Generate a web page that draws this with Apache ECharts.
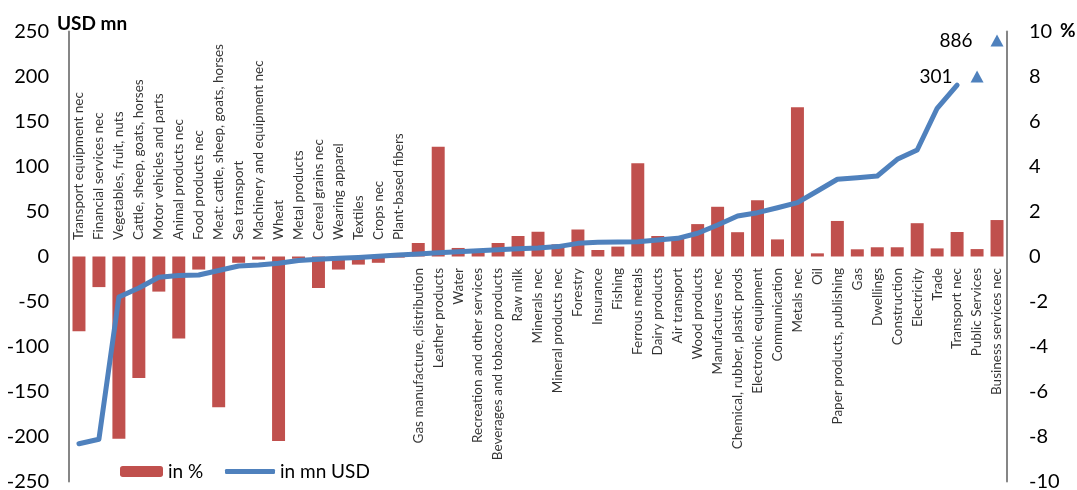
<!DOCTYPE html>
<html>
<head>
<meta charset="utf-8">
<script src="https://cdn.jsdelivr.net/npm/echarts@6/dist/echarts.min.js"></script>
<style>
  html, body { margin: 0; padding: 0; background: #fff; }
  #chart { width: 1077px; height: 490px; }
</style>
</head>
<body>
<div id="chart"></div>
<script>
// Sectors, ordered by the change in output value (mn USD)
const categories = [
  'Transport equipment nec', 'Financial services nec', 'Vegetables, fruit, nuts',
  'Cattle, sheep, goats, horses', 'Motor vehicles and parts', 'Animal products nec',
  'Food products nec', 'Meat: cattle, sheep, goats, horses', 'Sea transport',
  'Machinery and equipment nec', 'Wheat', 'Metal products', 'Cereal grains nec',
  'Wearing apparel', 'Textiles', 'Crops nec', 'Plant-based fibers',
  'Gas manufacture, distribution', 'Leather products', 'Water',
  'Recreation and other services', 'Beverages and tobacco products', 'Raw milk',
  'Minerals nec', 'Mineral products nec', 'Forestry', 'Insurance', 'Fishing',
  'Ferrous metals', 'Dairy products', 'Air transport', 'Wood products',
  'Manufactures nec', 'Chemical, rubber, plastic prods', 'Electronic equipment',
  'Communication', 'Metals nec', 'Oil', 'Paper products, publishing', 'Gas',
  'Dwellings', 'Construction', 'Electricity', 'Trade', 'Transport nec',
  'Public Services', 'Business services nec'
];

// Change in %
const changePct = [
  -3.32, -1.36, -8.1, -5.4, -1.56, -3.64, -0.58, -6.7, -0.28, -0.14,
  -8.2, -0.1, -1.4, -0.58, -0.36, -0.28, -0.05,
  0.6, 4.88, 0.38, 0.2, 0.6, 0.91, 1.1, 0.54, 1.2, 0.29, 0.44,
  4.14, 0.91, 0.85, 1.44, 2.21, 1.08, 2.5, 0.76, 6.63, 0.14,
  1.58, 0.32, 0.41, 0.41, 1.48, 0.36, 1.09, 0.33, 1.62
];

// Change in mn USD
const changeUsdMn = [
  -208, -203, -45, -35, -23, -21, -20.5, -15.5, -10.5, -9.5,
  -7.5, -4.5, -3, -2, -1, 0.2, 1.7,
  2.8, 4.2, 5.3, 6.4, 7.5, 8.5, 9.5, 11, 14.6, 15.7, 16.1,
  16.5, 18.3, 20.2, 25.8, 35, 45, 48.7, 54.2, 59.8, 72.8,
  85.8, 87.6, 89.4, 108, 118.3, 164.7, 190.5, 301, 886
];

// Axis ranges
const usdAxis = { min: -250, max: 250, step: 50 };
const pctAxis = { min: -10, max: 10, step: 2 };

const BAR_RED = '#C0504D';
const LINE_BLUE = '#4F81BD';
const AXIS_GREY = '#868686';
const FONT = 'Lato, "Open Sans", sans-serif';

// Values beyond the left axis are shown as arrows near the top with their value
const offScaleLevels = [200, 240];
const lineData = changeUsdMn.map(v => (v > usdAxis.max ? null : v));
const offScale = [];
changeUsdMn.forEach((v, i) => {
  if (v > usdAxis.max) {
    offScale.push({ value: [categories[i], offScaleLevels[offScale.length]], actual: v });
  }
});

// Sector names sit on the zero line: above it for falling sectors, below it otherwise
const sectorLabels = categories.map((name, i) => {
  const above = changePct[i] < 0;
  return {
    name: name,
    value: [name, 0],
    label: {
      position: above ? 'top' : 'bottom',
      distance: above ? 16 : 11,
      align: above ? 'left' : 'right'
    }
  };
});

const chart = echarts.init(document.getElementById('chart'), null, { renderer: 'canvas' });

chart.setOption({
  animation: false,
  backgroundColor: '#fff',
  grid: { left: 69, right: 70, top: 31.5, bottom: 8.5, containLabel: false, outerBoundsMode: 'none' },
  xAxis: {
    type: 'category',
    data: categories,
    boundaryGap: true,
    axisLine: { show: false },
    axisTick: { show: false },
    axisLabel: { show: false },
    splitLine: { show: false }
  },
  yAxis: [
    {
      type: 'value', position: 'left',
      min: usdAxis.min, max: usdAxis.max, interval: usdAxis.step,
      axisLine: { show: true, lineStyle: { color: AXIS_GREY, width: 2 } },
      axisTick: { show: false },
      splitLine: { show: false },
      axisLabel: { fontSize: 20, color: '#000', margin: 20, fontFamily: FONT }
    },
    {
      type: 'value', position: 'right',
      min: pctAxis.min, max: pctAxis.max, interval: pctAxis.step,
      axisLine: { show: true, lineStyle: { color: AXIS_GREY, width: 2 } },
      axisTick: { show: false },
      splitLine: { show: false },
      axisLabel: { fontSize: 20, color: '#000', margin: 22, fontFamily: FONT }
    }
  ],
  legend: [
    {
      data: ['in %'], left: 120, top: 462, padding: 0,
      itemWidth: 43, itemHeight: 11, itemGap: 0,
      textStyle: { fontSize: 19, color: '#000', fontFamily: FONT }
    },
    {
      data: [{ name: 'in mn USD', icon: 'roundRect' }], left: 225, top: 462, padding: 0,
      itemWidth: 50, itemHeight: 5, itemGap: 0,
      textStyle: { fontSize: 19, color: '#000', fontFamily: FONT }
    }
  ],
  graphic: [
    {
      type: 'text', left: 57, top: 14,
      style: { text: 'USD mn', fontSize: 19, fontWeight: 'bold', fill: '#000', fontFamily: FONT }
    },
    {
      type: 'text', left: 1060, top: 21,
      style: { text: '%', fontSize: 19, fontWeight: 'bold', fill: '#000', fontFamily: FONT }
    }
  ],
  series: [
    {
      name: 'in %',
      type: 'bar',
      yAxisIndex: 1,
      data: changePct,
      barCategoryGap: '35%',
      itemStyle: { color: BAR_RED }
    },
    {
      name: 'in mn USD',
      type: 'line',
      yAxisIndex: 0,
      data: lineData,
      symbol: 'none',
      connectNulls: false,
      lineStyle: { color: LINE_BLUE, width: 5, join: 'round', cap: 'round' },
      itemStyle: { color: LINE_BLUE },
      z: 3
    },
    {
      name: 'beyond axis',
      type: 'scatter',
      yAxisIndex: 0,
      data: offScale,
      symbol: 'triangle',
      symbolSize: [13, 12],
      itemStyle: { color: LINE_BLUE, opacity: 1 },
      label: {
        show: true,
        position: 'left',
        distance: 18,
        fontSize: 19,
        color: '#000',
        fontFamily: FONT,
        formatter: p => String(p.data.actual)
      },
      z: 4
    },
    {
      name: 'sector names',
      type: 'scatter',
      yAxisIndex: 1,
      data: sectorLabels,
      symbol: 'circle',
      symbolSize: 1,
      silent: true,
      itemStyle: { color: 'rgba(0,0,0,0)' },
      label: {
        show: true,
        rotate: 90,
        verticalAlign: 'middle',
        fontSize: 13.5,
        color: '#000',
        fontFamily: FONT,
        formatter: p => p.name
      },
      labelLayout: { hideOverlap: false },
      z: 5
    }
  ]
});
</script>
</body>
</html>
